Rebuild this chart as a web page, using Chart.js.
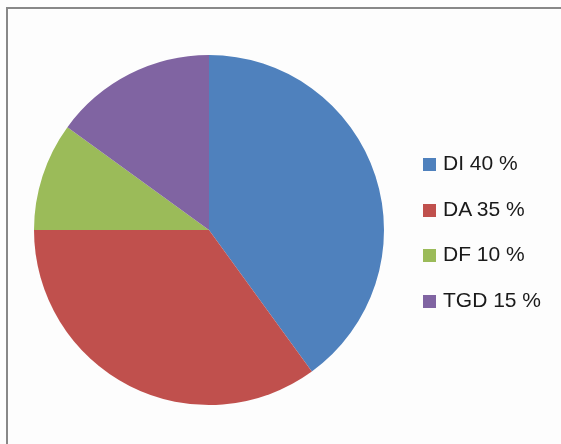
<!DOCTYPE html>
<html>
<head>
<meta charset="utf-8">
<script src="https://cdn.jsdelivr.net/npm/chart.js@4"></script>
<style>
  html, body { margin: 0; padding: 0; background: #fdfdfd; overflow: hidden; }
  #wrap { position: relative; width: 561px; height: 444px; }
  #frame {
    position: absolute; left: 6px; top: 7px; width: 600px; height: 500px;
    border: 2px solid #888888; box-sizing: border-box;
  }
  #pie { position: absolute; left: 0; top: 0; }
  #legend {
    position: absolute; left: 423px; top: 140px; margin: 0; padding: 0;
    list-style: none; font-family: "Liberation Sans", Arial, sans-serif;
    font-size: 21px; color: #1a1a1a;
  }
  #legend li { height: 45.5px; line-height: 45.5px; white-space: nowrap; }
  #legend span {
    display: inline-block; width: 13px; height: 13px; margin-right: 7px;
    vertical-align: -1px;
  }
</style>
</head>
<body>
<div id="wrap">
  <div id="frame"></div>
  <canvas id="pie" width="561" height="444"></canvas>
  <ul id="legend"></ul>
</div>
<script>

// Categories and shares (percent).
var labels = ["DI 40 %", "DA 35 %", "DF 10 %", "TGD 15 %"];
var values = [40, 35, 10, 15];
var colors = ["#4f81bd", "#c0504d", "#9bbb59", "#8064a2"];


/**
* Build the legend list next to the pie from the chart's own data.
*/
function buildLegend(chart) {

    var ul = document.getElementById("legend");
    chart.data.labels.forEach( (label, i) => {
        var li = document.createElement("li");
        var box = document.createElement("span");
        box.style.background = chart.data.datasets[0].backgroundColor[i];
        li.appendChild(box);
        li.appendChild(document.createTextNode(label));
        ul.appendChild(li);
        });

} // End of buildLegend()


var canvas = document.getElementById("pie").getContext("2d");
var chart = new Chart(canvas, {
    type: "pie",
    data: {
        labels: labels,
        datasets: [{
            data: values,
            backgroundColor: colors,
            borderWidth: 0,
            }],
        },
    options: {
        responsive: false,
        animation: false,
        layout: {
            // Puts the pie at centre (209, 230) with a radius of 175.
            padding: { left: 34, top: 55, right: 177, bottom: 39 },
            },
        plugins: {
            legend: { display: false },
            tooltip: { enabled: false },
            },
        },
    });

buildLegend(chart);

</script>
</body>
</html>
